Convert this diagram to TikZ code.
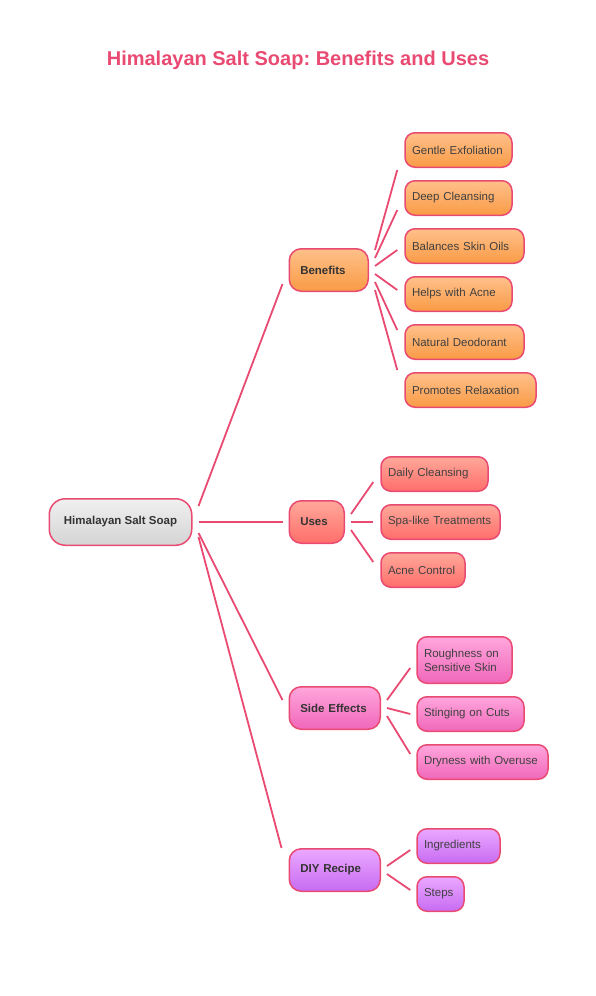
\documentclass[tikz,border=0pt]{standalone}
\usepackage{fontspec}
\setmainfont{Liberation Sans}
\frenchspacing
\definecolor{rose}{HTML}{E94A72}
\definecolor{textgray}{HTML}{404040}
\definecolor{maingray}{HTML}{333333}
\definecolor{roottop}{HTML}{F0F0F0}
\definecolor{rootbot}{HTML}{D4D4D4}
\definecolor{benefittop}{HTML}{FFC08A}
\definecolor{benefitbot}{HTML}{F99B45}
\definecolor{usetop}{HTML}{FFA89A}
\definecolor{usebot}{HTML}{FF6E6A}
\definecolor{effecttop}{HTML}{FFA6DC}
\definecolor{effectbot}{HTML}{F067BA}
\definecolor{recipetop}{HTML}{EBA8FF}
\definecolor{recipebot}{HTML}{C76BF2}
\begin{document}
\begin{tikzpicture}[x=1pt, y=-1pt,
		link/.style={draw=rose, line width=1.8pt},
		box/.style={draw=rose, line width=1.5pt, anchor=west, align=left},
		leaf/.style={box, rounded corners=10pt, minimum height=34.5pt, inner xsep=7pt, inner ysep=0pt, text width=#1, text=textgray, font=\fontsize{11.5}{14}\selectfont},
		main/.style={box, rounded corners=12pt, minimum height=42.5pt, inner xsep=11pt, inner ysep=0pt, text width=#1, text=maingray, font=\fontsize{11.5}{14}\selectfont\bfseries},
		rootshade/.style={top color=roottop, bottom color=rootbot},
		benefitshade/.style={top color=benefittop, bottom color=benefitbot},
		useshade/.style={top color=usetop, bottom color=usebot},
		effectshade/.style={top color=effecttop, bottom color=effectbot},
		recipeshade/.style={top color=recipetop, bottom color=recipebot}]
		\useasboundingbox (0,0) rectangle (596,996);
		\node (title) [text=rose, font=\fontsize{20}{24}\selectfont\bfseries] at (298,60) {Himalayan Salt Soap: Benefits and Uses};
		
		\node (root) [box, rootshade, rounded corners=16pt, minimum width=142.5pt, minimum height=46.5pt, align=center, text=maingray, font=\fontsize{11.5}{14}\selectfont\bfseries] at (48.5,522) {Himalayan Salt Soap};
		
		\node (benefits) [main=57pt, benefitshade] at (288.5,270) {Benefits};
		\node (uses) [main=33pt, useshade] at (288.5,522) {Uses};
		\node (effects) [main=69pt, effectshade] at (288.5,708) {Side Effects};
		\node (recipe) [main=69pt, recipeshade] at (288.5,870) {DIY Recipe};
		
		\node (exfol) [leaf=93pt, benefitshade] at (404.25,150) {Gentle Exfoliation};
		\node (cleansing) [leaf=93pt, benefitshade] at (404.25,198) {Deep Cleansing};
		\node (oils) [leaf=105pt, benefitshade] at (404.25,246) {Balances Skin Oils};
		\node (acne) [leaf=93pt, benefitshade] at (404.25,294) {Helps with Acne};
		\node (deodorant) [leaf=105pt, benefitshade] at (404.25,342) {Natural Deodorant};
		\node (relax) [leaf=117pt, benefitshade] at (404.25,390) {Promotes Relaxation};
		
		\node (daily) [leaf=93pt, useshade] at (380.25,474) {Daily Cleansing};
		\node (spa) [leaf=105pt, useshade] at (380.25,522) {Spa-like Treatments};
		\node (control) [leaf=70pt, useshade] at (380.25,570) {Acne Control};
		
		\node (rough) [leaf=81pt, effectshade, minimum height=46.5pt] at (416.25,660) {Roughness on\\Sensitive Skin};
		\node (sting) [leaf=93pt, effectshade] at (416.25,714) {Stinging on Cuts};
		\node (dry) [leaf=117pt, effectshade] at (416.25,762) {Dryness with Overuse};
		
		\node (ingred) [leaf=69pt, recipeshade] at (416.25,846) {Ingredients};
		\node (steps) [leaf=33pt, recipeshade] at (416.25,894) {Steps};
		
		\draw[link] ([shift={(6,-16)}]root.east) -- ([shift={(-6,14)}]benefits.west);
		\draw[link] ([shift={(6,0)}]root.east) -- ([shift={(-6,0)}]uses.west);
		\draw[link] ([shift={(6,11)}]root.east) -- ([shift={(-6,-8)}]effects.west);
		\draw[link] ([shift={(6,15)}]root.east) -- ([shift={(-7,-22)}]recipe.west);
		
		\draw[link] ([shift={(6,-20)}]benefits.east) -- ([shift={(-7,20)}]exfol.west);
		\draw[link] ([shift={(6,-12)}]benefits.east) -- ([shift={(-7,12)}]cleansing.west);
		\draw[link] ([shift={(6,-4)}]benefits.east) -- ([shift={(-7,4)}]oils.west);
		\draw[link] ([shift={(6,4)}]benefits.east) -- ([shift={(-7,-4)}]acne.west);
		\draw[link] ([shift={(6,12)}]benefits.east) -- ([shift={(-7,-12)}]deodorant.west);
		\draw[link] ([shift={(6,20)}]benefits.east) -- ([shift={(-7,-20)}]relax.west);
		
		\draw[link] ([shift={(6,-8)}]uses.east) -- ([shift={(-7,8)}]daily.west);
		\draw[link] ([shift={(6,0)}]uses.east) -- ([shift={(-7,0)}]spa.west);
		\draw[link] ([shift={(6,8)}]uses.east) -- ([shift={(-7,-8)}]control.west);
		
		\draw[link] ([shift={(6,-8)}]effects.east) -- ([shift={(-6,8)}]rough.west);
		\draw[link] ([shift={(6,0)}]effects.east) -- ([shift={(-6,0)}]sting.west);
		\draw[link] ([shift={(6,8)}]effects.east) -- ([shift={(-6,-8)}]dry.west);
		
		\draw[link] ([shift={(6,-4)}]recipe.east) -- ([shift={(-6,4)}]ingred.west);
		\draw[link] ([shift={(6,4)}]recipe.east) -- ([shift={(-6,-4)}]steps.west);
	\end{tikzpicture}
\end{document}
